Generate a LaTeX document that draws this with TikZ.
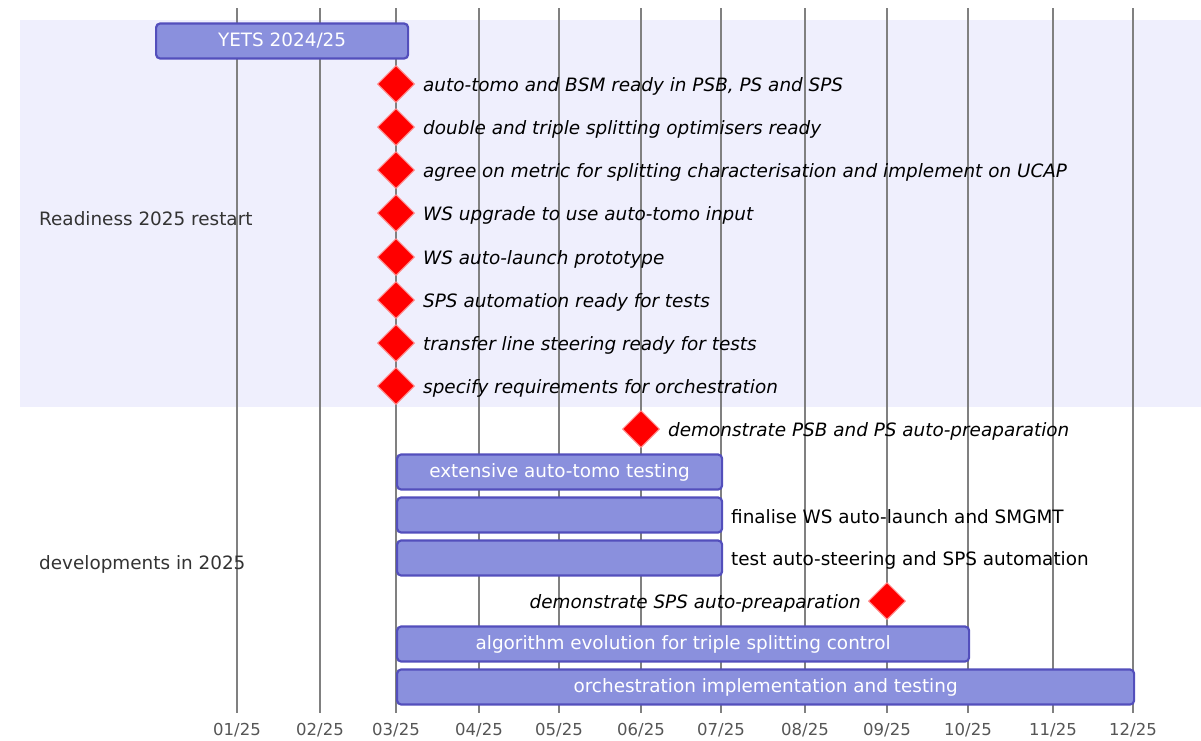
\documentclass[tikz,border=0pt]{standalone}
\usepackage{fontspec}
\setmainfont{DejaVu Sans}
\usetikzlibrary{shapes.geometric}
\definecolor{sectbg}{HTML}{EFEFFD}
\definecolor{barfill}{HTML}{8A90DD}
\definecolor{barline}{HTML}{534FBC}
\definecolor{gridc}{HTML}{808080}
\definecolor{msline}{HTML}{FF8888}
\definecolor{sectxt}{HTML}{333333}
\definecolor{axtxt}{HTML}{555555}
\newcommand{\chartfont}{\fontsize{18.4}{20}\selectfont}
\tikzset{
  gridline/.style={draw=gridc, line width=1.1pt},
  taskbar/.style={draw=barline, fill=barfill, line width=2.2pt, rounded corners=4pt,
    minimum height=35pt, inner sep=0pt, anchor=west, text=white, font=\chartfont},
  milestone/.style={diamond, fill=red, draw=msline, line width=1pt, inner sep=0pt,
    minimum width=37pt, minimum height=37pt},
  mslabel/.style={inner sep=0pt, font=\chartfont\itshape},
  outlabel/.style={inner sep=0pt, anchor=west, font=\chartfont},
  seclabel/.style={inner sep=0pt, anchor=west, text=sectxt, font=\chartfont},
  axlabel/.style={inner sep=0pt, text=axtxt, font=\fontsize{16.5}{18}\selectfont},
}
\begin{document}
\begin{tikzpicture}[x=1pt,y=-1pt]
\useasboundingbox (0,0) rectangle (1201,740);
% section background
\fill[sectbg] (20,20) rectangle (1201,407);
% month grid and axis labels
\foreach \x/\l [count=\i] in {237/{01/25},320/{02/25},396/{03/25},479/{04/25},559/{05/25},641/{06/25},721/{07/25},805/{08/25},887/{09/25},968/{10/25},1053/{11/25},1133/{12/25}}{
  \node[axlabel] (m\i) at (\x,730) {\l};
  \coordinate (g\i) at (\x,8);
  \coordinate (t\i) at (\x,713);
  \draw[gridline] (g\i) -- (t\i);
}
% section titles
\node[seclabel] (s1) at (39,219) {Readiness 2025 restart};
\node[seclabel] (s2) at (39,564) {developments in 2025};
% tasks
\node[taskbar, minimum width=252pt] (yets) at (155,41) {YETS 2024/25};
\node[taskbar, minimum width=325pt] (tomo) at (396,472) {extensive auto-tomo testing};
\node[taskbar, minimum width=325pt] (wsl) at (396,515) {};
\node[outlabel] (wsltxt) at (731,517) {finalise WS auto-launch and SMGMT};
\node[taskbar, minimum width=325pt] (steer) at (396,558) {};
\node[outlabel] (steertxt) at (731,560) {test auto-steering and SPS automation};
\node[taskbar, minimum width=572pt] (algo) at (396,644) {algorithm evolution for triple splitting control};
\node[taskbar, minimum width=737pt] (orch) at (396,687) {orchestration implementation and testing};
% milestones
\foreach \y/\t [count=\i] in {84/{auto-tomo and BSM ready in PSB, PS and SPS},
  127/{double and triple splitting optimisers ready},
  170/{agree on metric for splitting characterisation and implement on UCAP},
  213/{WS upgrade to use auto-tomo input},
  257/{WS auto-launch prototype},
  300/{SPS automation ready for tests},
  343/{transfer line steering ready for tests},
  386/{specify requirements for orchestration}}{
  \node[milestone] (ms\i) at (396,\y) {};
  \node[mslabel, anchor=west] (mt\i) at (423,\y+2) {\t};
}
\node[milestone] (psb) at (641,429) {};
\node[mslabel, anchor=west] (psbtxt) at (668,431) {demonstrate PSB and PS auto-preaparation};
\node[milestone] (sps) at (887,601) {};
\node[mslabel, anchor=east] (spstxt) at (861,603) {demonstrate SPS auto-preaparation};
\end{tikzpicture}
\end{document}
